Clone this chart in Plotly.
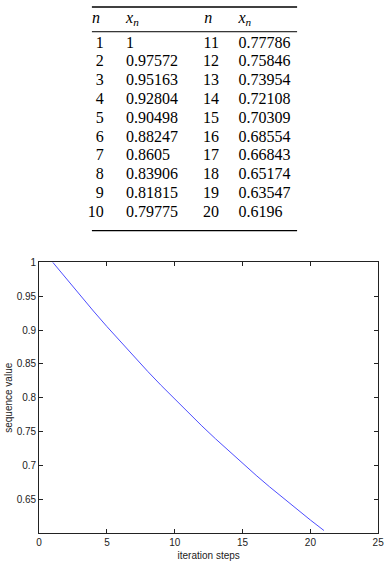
import plotly.graph_objects as go

# ---- data ----
n_left = [1, 2, 3, 4, 5, 6, 7, 8, 9, 10]
x_left = ["1", "0.97572", "0.95163", "0.92804", "0.90498", "0.88247", "0.8605", "0.83906", "0.81815", "0.79775"]
n_right = [11, 12, 13, 14, 15, 16, 17, 18, 19, 20]
x_right = ["0.77786", "0.75846", "0.73954", "0.72108", "0.70309", "0.68554", "0.66843", "0.65174", "0.63547", "0.6196"]
header = ["<i>n</i>", "<i>x<sub>n</sub></i>"]

steps = list(range(1, 22))
values = [1, 0.97572, 0.95163, 0.92804, 0.90498, 0.88247, 0.8605, 0.83906, 0.81815, 0.79775,
          0.77786, 0.75846, 0.73954, 0.72108, 0.70309, 0.68554, 0.66843, 0.65174, 0.63547, 0.6196,
          0.60412]

x_ticks = [0, 5, 10, 15, 20, 25]
y_ticks = [0.65, 0.7, 0.75, 0.8, 0.85, 0.9, 0.95, 1]
y_tick_text = ["0.65", "0.7", "0.75", "0.8", "0.85", "0.9", "0.95", "1"]

W, H = 392, 562
serif = "Liberation Serif, Times New Roman, serif"
sans = "Liberation Sans, Arial, sans-serif"
tfont = dict(family=serif, size=16, color="black")

fig = go.Figure()

# ---- table (hidden axis pair; rows are spaced by the axis scale) ----
TOP_PX, ROW_PX, TABLE_H = 19, 19, 230   # layout of the table area


def row_units(px):
    return (px - TOP_PX) / ROW_PX


rows = list(range(1, 11))
col_n1, col_x1, col_n2, col_x2 = 103, 126, 221, 241
fig.add_trace(go.Scatter(x=[col_n1] * 10, y=rows, text=[str(v) for v in n_left], mode="text",
                         textposition="middle left", textfont=tfont, xaxis="x2", yaxis="y2",
                         showlegend=False, hoverinfo="skip"))
fig.add_trace(go.Scatter(x=[col_x1] * 10, y=rows, text=x_left, mode="text",
                         textposition="middle right", textfont=tfont, xaxis="x2", yaxis="y2",
                         showlegend=False, hoverinfo="skip"))
fig.add_trace(go.Scatter(x=[col_n2] * 10, y=rows, text=[str(v) for v in n_right], mode="text",
                         textposition="middle left", textfont=tfont, xaxis="x2", yaxis="y2",
                         showlegend=False, hoverinfo="skip"))
fig.add_trace(go.Scatter(x=[col_x2] * 10, y=rows, text=x_right, mode="text",
                         textposition="middle right", textfont=tfont, xaxis="x2", yaxis="y2",
                         showlegend=False, hoverinfo="skip"))
# header
fig.add_trace(go.Scatter(x=[91, col_x1, 206, col_x2], y=[row_units(13)] * 4,
                         text=[header[0], header[1], header[0], header[1]], mode="text",
                         textposition="middle right", textfont=tfont, xaxis="x2", yaxis="y2",
                         showlegend=False, hoverinfo="skip"))

for px, lw in [(1, 1.3), (26, 1), (227, 1.3)]:
    yv = row_units(px)
    fig.add_shape(type="line", xref="x2", yref="y2", x0=91, x1=301, y0=yv, y1=yv,
                  line=dict(color="black", width=lw))

# ---- line plot ----
fig.add_trace(go.Scatter(x=steps, y=values, mode="lines", line=dict(color="#4d4dff", width=1),
                         showlegend=False, hoverinfo="skip"))

axis_common = dict(showgrid=False, zeroline=False, showline=True, linecolor="#222", linewidth=1,
                   mirror="ticks", ticks="inside", ticklen=4, tickcolor="#222",
                   tickfont=dict(family=sans, size=10, color="#222"))

fig.update_layout(
    width=W, height=H,
    margin=dict(l=0, r=0, t=0, b=0),
    paper_bgcolor="white", plot_bgcolor="white",
    xaxis=dict(domain=[37 / W, 384 / W], range=[0, 25], tickvals=x_ticks,
               title=dict(text="iteration steps", font=dict(family=sans, size=10, color="#222"), standoff=4),
               **axis_common),
    yaxis=dict(domain=[(H - 533) / H, (H - 259) / H], range=[0.6, 1], tickvals=y_ticks, ticktext=y_tick_text,
               title=dict(text="sequence value", font=dict(family=sans, size=10, color="#222"), standoff=2),
               **axis_common),
    xaxis2=dict(domain=[0, 1], range=[0, W], visible=False, anchor="y2"),
    yaxis2=dict(domain=[1 - TABLE_H / H, 1], range=[row_units(TABLE_H), row_units(0)], visible=False, anchor="x2"),
)

fig.write_html("out.html", config={"displayModeBar": False},
               post_script="document.body.style.margin='0';document.body.style.overflow='hidden';")
